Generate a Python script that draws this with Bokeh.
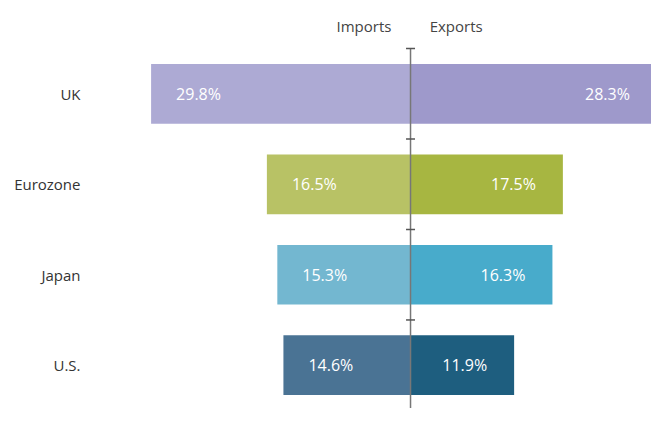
from bokeh.plotting import figure
from bokeh.models import Range1d, FixedTicker, ColumnDataSource
from bokeh.core.properties import value
from bokeh.embed import file_html
from bokeh.resources import INLINE

# Data (bottom to top)
categories = ["U.S.", "Japan", "Eurozone", "UK"]
imports = [14.6, 15.3, 16.5, 29.8]
exports = [11.9, 16.3, 17.5, 28.3]
import_colors = ["#4A7394", "#73B7D0", "#B8C265", "#ADAAD4"]
export_colors = ["#1E5E7F", "#48ABCB", "#A7B641", "#9E99CB"]
header_labels = ["Imports", "Exports"]

FONT = "Open Sans"

ypos = [i + 0.5 for i in range(len(categories))]
src = ColumnDataSource(dict(
    y=ypos,
    imp_left=[-v for v in imports],
    exp_right=exports,
    zero=[0] * len(categories),
    imp_col=import_colors,
    exp_col=export_colors,
    imp_txt=[f"{v:.1f}%" for v in imports],
    exp_txt=[f"{v:.1f}%" for v in exports],
))

p = figure(width=651, height=408, output_backend="svg", toolbar_location=None,
           x_range=Range1d(-36.99, 27.68), y_range=Range1d(0.021, 4.532),
           min_border_left=88, min_border_right=0, min_border_top=0, min_border_bottom=0)
p.xaxis.visible = False
p.xgrid.visible = False
p.ygrid.visible = False
p.outline_line_color = None
p.background_fill_color = "white"
p.border_fill_color = "white"

yax = p.yaxis[0]
yax.ticker = FixedTicker(ticks=ypos)
yax.major_label_overrides = {y: c for y, c in zip(ypos, categories)}
yax.axis_line_color = None
yax.major_tick_line_color = None
yax.minor_tick_line_color = None
yax.major_tick_out = 0
yax.major_label_standoff = 8
yax.major_label_text_font = FONT
yax.major_label_text_font_size = "15px"
yax.major_label_text_color = "#333333"

p.hbar(y="y", left="imp_left", right="zero", height=0.66, fill_color="imp_col",
       line_color=None, source=src)
p.hbar(y="y", left="zero", right="exp_right", height=0.66, fill_color="exp_col",
       line_color=None, source=src)

# center axis
n = len(categories)
p.segment(x0=[0], y0=[n], x1=[0], y1=[0], line_color="#777777", line_width=1.5)
p.scatter(x=[0] * n, y=list(range(1, n + 1)), marker="dash", size=9,
          line_color="#555555", line_width=1.5)

# value labels
p.text(x="imp_left", y="y", text="imp_txt", x_offset=25, text_align="left",
       text_baseline="middle", text_color="white", text_font=value(FONT),
       text_font_size="16px", source=src)
p.text(x="exp_right", y="y", text="exp_txt", x_offset=-27, text_align="right",
       text_baseline="middle", text_color="white", text_font=value(FONT),
       text_font_size="16px", source=src)

# headers
p.text(x=[-2.2, 2.2], y=[n + 0.245, n + 0.245], text=header_labels,
       text_align=["right", "left"], text_baseline="middle", text_color="#444444",
       text_font=value(FONT), text_font_size="15px")

open("out.html", "w").write(file_html(p, INLINE))
